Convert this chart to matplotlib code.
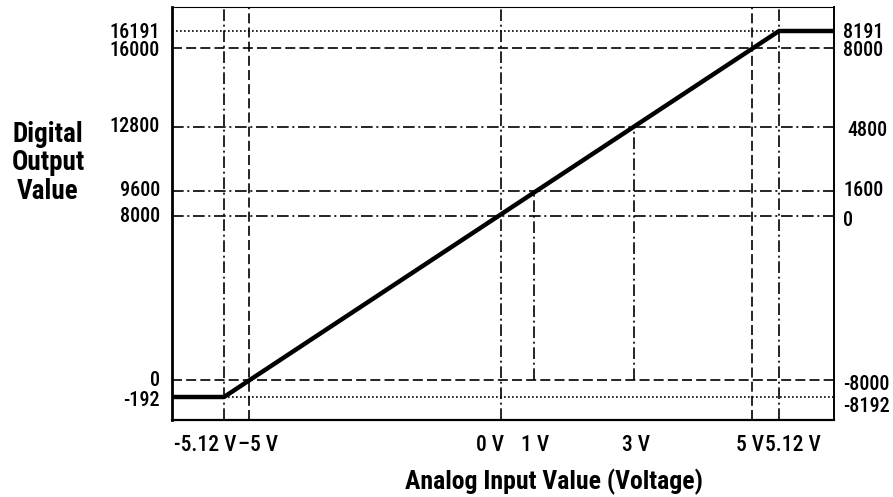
import numpy as np
import matplotlib.pyplot as plt
from matplotlib import font_manager

# condensed face if one is installed, else plain sans with smaller sizes
narrow = None
for fam in ['Liberation Sans Narrow', 'Roboto Condensed', 'DejaVu Sans Condensed']:
    try:
        font_manager.findfont(font_manager.FontProperties(family=fam), fallback_to_default=False)
        narrow = fam
        break
    except ValueError:
        pass
if narrow:
    plt.rcParams['font.family'] = [narrow, 'Liberation Sans', 'DejaVu Sans']
    fs_x, fs_y, fs_lab, fs_title = 15.5, 14.5, 19.5, 18.5
else:
    plt.rcParams['font.family'] = ['Liberation Sans', 'DejaVu Sans']
    fs_x, fs_y, fs_lab, fs_title = 13, 12.5, 16, 16

# transfer curve: analog input (V) -> digital output (counts)
volts = [-5.6, -5.12, 5.12, 5.6]
counts = [-192, -192, 16191, 16191]

x_ticks = [-5.12, -5, 0, 1, 3, 5, 5.12]
x_labels = ['-5.12 V', '\u20135 V', '0 V', '1 V', '3 V', '5 V', '5.12 V']
left_ticks = [16191, 16000, 12800, 9600, 8000, 0, -192]
right_labels = [8191, 8000, 4800, 1600, 0, -8000, -8192]

# the drawing is a schematic, axes are not to scale -> piecewise linear scales
x_knots = [-5.6, -5.12, -5, 0, 1, 3, 5, 5.12, 5.6]
x_pos = [0, 52, 77, 329, 362, 462, 580, 607, 662]
y_knots = [-500, -192, 0, 8000, 9600, 12800, 16000, 16191, 16500]
y_pos = [0, 23, 40, 204, 229, 293, 372, 389, 413]


def fx(v):
    return np.interp(v, x_knots, x_pos)


def ix(p):
    return np.interp(p, x_pos, x_knots)


def fy(v):
    return np.interp(v, y_knots, y_pos)


def iy(p):
    return np.interp(p, y_pos, y_knots)


dotted = (0, (1, 1.4))
dashed = (0, (6, 2.5))
dashdot = (0, (7, 2.2, 1.2, 2.2))

fig = plt.figure(figsize=(8.93, 4.97), dpi=100)
ax = fig.add_axes([172 / 893, 1 - 420 / 497, 662 / 893, 413 / 497])
ax.set_xscale('function', functions=(fx, ix))
ax.set_yscale('function', functions=(fy, iy))
ax.set_xlim(-5.6, 5.6)
ax.set_ylim(-500, 16500)

lw = 1.2
# horizontal guide lines
h_styles = {16191: dotted, 16000: dashed, 12800: dashdot, 9600: dashdot,
            8000: dashdot, 0: dashed, -192: dotted}
for yv, ls in h_styles.items():
    ax.axhline(yv, color='black', lw=lw, ls=ls, zorder=1)

# vertical guide lines
v_styles = {-5.12: dashdot, -5: dashed, 0: dashdot, 5: dashed, 5.12: dashdot}
for xv, ls in v_styles.items():
    ax.axvline(xv, color='black', lw=lw, ls=ls, zorder=1)
ax.vlines([1, 3], 0, [9600, 12800], colors='black', lw=lw, linestyles=[dashdot], zorder=1)

ax.plot(volts, counts, color='black', lw=3.2, solid_capstyle='butt', zorder=3)

ax.set_xticks([])
ax.set_yticks([])

# tick labels placed by hand (the original nudges crowded ones apart); offsets in px
x_off = [-19, 9, -11, 1, 2, -2, 14]
for xv, lab, dx in zip(x_ticks, x_labels, x_off):
    ax.annotate(lab, xy=(xv, 0), xycoords=('data', 'axes fraction'),
                xytext=(dx * 0.72, -18), textcoords='offset points',
                ha='center', va='center', fontsize=fs_x, fontweight='medium')

left_dy = [2, 3, 0, 0, 0, 0, 3]
for yv, dy in zip(left_ticks, left_dy):
    ax.annotate(str(yv), xy=(0, yv), xycoords=('axes fraction', 'data'),
                xytext=(-12 * 0.72, -dy * 0.72), textcoords='offset points',
                ha='right', va='center', fontsize=fs_y, fontweight='medium')

right_dx = [0, 0, 4, 0, 0, 0, 0]
right_dy = [2, 3, 3, 0, 4, 4, 9]
for yv, lab, dx, dy in zip(left_ticks, right_labels, right_dx, right_dy):
    ax.annotate(str(lab), xy=(1, yv), xycoords=('axes fraction', 'data'),
                xytext=((9 + dx) * 0.72, -dy * 0.72), textcoords='offset points',
                ha='left', va='center', fontsize=fs_y, fontweight='medium')

ax.spines['left'].set_linewidth(2.0)
ax.spines['bottom'].set_linewidth(1.6)
ax.spines['right'].set_linewidth(1.4)
ax.spines['top'].set_linewidth(0.8)

fig.text(48 / 893, 1 - 163 / 497, 'Digital\nOutput\nValue', ha='center', va='center',
         fontsize=fs_lab, fontweight='bold', linespacing=1.05)
fig.text(554 / 893, 1 - 482 / 497, 'Analog Input Value (Voltage)', ha='center', va='center',
         fontsize=fs_title, fontweight='bold')

fig.savefig('out.png', dpi=100)
